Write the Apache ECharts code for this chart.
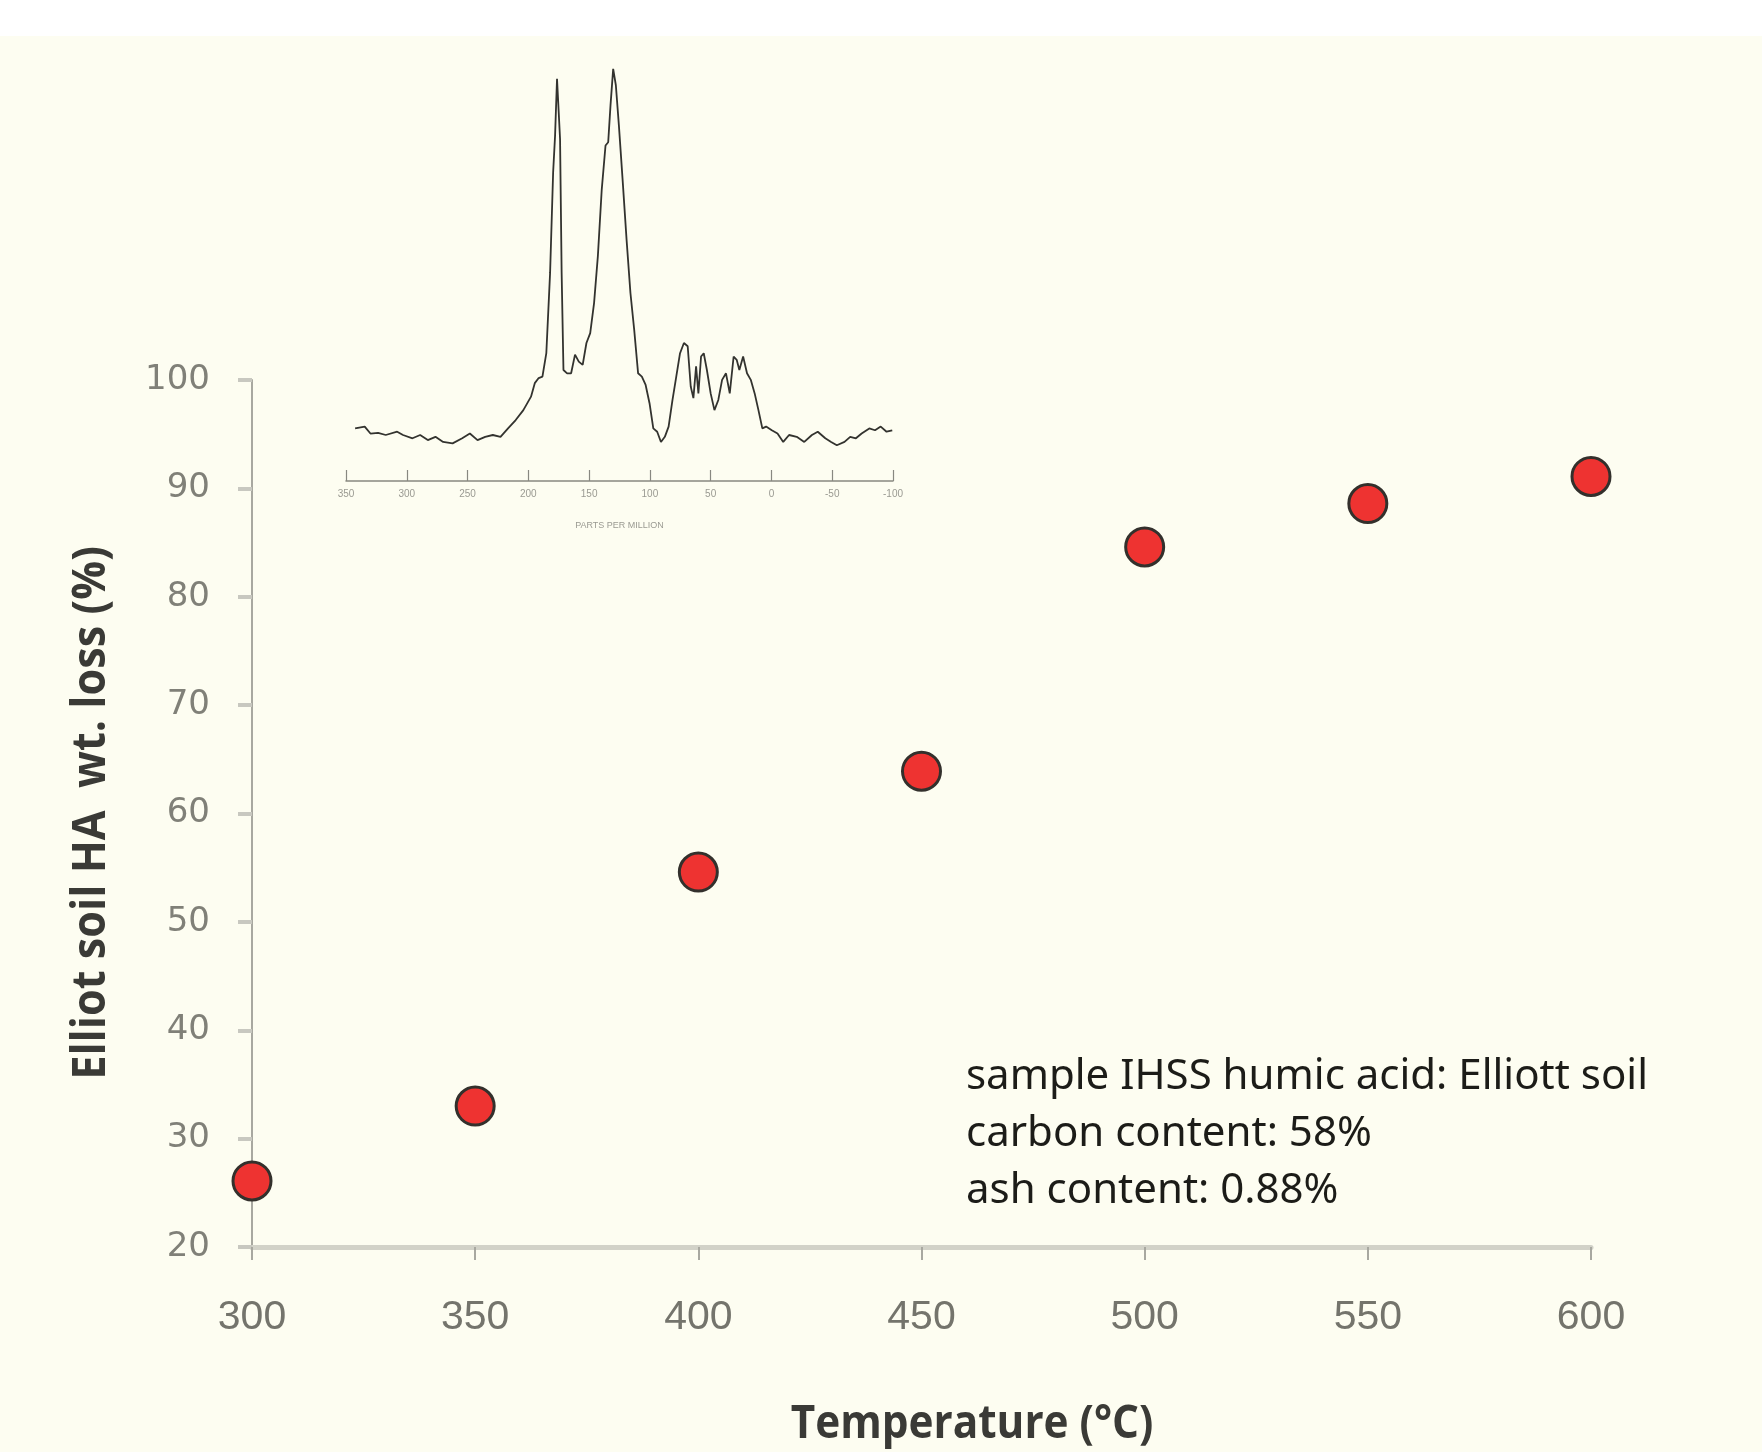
<!DOCTYPE html>
<html>
<head>
<meta charset="utf-8">
<script src="https://cdn.jsdelivr.net/npm/echarts@6/dist/echarts.min.js"></script>
<style>
  html, body { margin: 0; padding: 0; background: #ffffff; }
  #chart { width: 1762px; height: 1452px; }
</style>
</head>
<body>
<div id="chart"></div>
<script>
// main scatter: temperature vs weight loss
var temps = [300, 350, 400, 450, 500, 550, 600];
var wtLoss = [26.1, 33.0, 54.6, 63.9, 84.6, 88.6, 91.1];

// inset 13C NMR spectrum
var ppm = [342.5, 334.6, 329.9, 323.6, 317.3, 307.9, 303.1, 295.3, 289.0, 282.7,
    276.4, 270.1, 262.3, 254.4, 248.1, 241.8, 235.5, 229.2, 222.9, 216.7,
    210.4, 204.1, 197.8, 194.7, 191.5, 188.4, 185.2, 182.1, 179.6, 178.0,
    176.4, 175.2, 173.9, 172.6, 171.1, 168.1, 164.8, 161.6, 158.5, 155.3,
    152.2, 149.1, 145.9, 142.8, 139.6, 136.5, 134.3, 132.4, 130.2, 128.0,
    125.5, 122.3, 119.2, 116.0, 112.9, 109.7, 106.6, 103.5, 100.3, 97.2,
    94.0, 90.9, 87.7, 84.6, 81.4, 78.3, 75.2, 72.0, 68.9, 66.4,
    64.2, 62.0, 60.1, 57.9, 55.7, 53.1, 50.0, 46.9, 43.7, 40.6,
    37.4, 34.3, 31.1, 28.6, 26.4, 23.3, 20.1, 17.0, 13.8, 10.7,
    7.5, 4.4, -0.3, -5.0, -9.7, -14.5, -20.8, -27.0, -33.3, -38.1,
    -44.3, -49.1, -53.8, -60.1, -64.8, -69.5, -74.2, -80.5, -85.2, -89.9,
    -94.7, -99.4];
var intensity = [1.0, 1.5, -0.4, -0.2, -0.8, 0.1, -0.8, -1.7, -0.8, -2.2,
    -1.3, -2.7, -3.1, -1.7, -0.4, -2.2, -1.3, -0.8, -1.3, 1.0,
    3.3, 6.0, 9.7, 13.4, 14.8, 15.2, 21.6, 43.6, 71.1, 81.2,
    96.8, 97.3, 80.3, 43.6, 17.0, 16.1, 16.1, 21.2, 19.3, 18.4,
    24.4, 27.1, 35.4, 48.2, 66.5, 78.5, 79.4, 89.5, 99.5, 95.0,
    84.0, 68.4, 52.8, 38.1, 28.0, 16.1, 15.2, 12.9, 7.9, 1.0,
    0.1, -2.7, -1.3, 1.5, 8.8, 15.2, 21.6, 24.4, 23.5, 12.5,
    9.3, 18.0, 10.6, 20.7, 21.6, 17.0, 10.6, 6.0, 8.8, 14.3,
    16.1, 10.6, 20.7, 19.8, 17.0, 20.7, 16.1, 14.3, 10.6, 6.0,
    1.0, 1.5, 0.5, -0.4, -2.7, -0.8, -1.3, -2.7, -0.8, 0.1,
    -1.7, -2.7, -3.6, -2.7, -1.3, -1.7, -0.4, 1.0, 0.5, 1.5,
    0.1, 0.5];

var notes = ['sample IHSS humic acid: Elliott soil', 'carbon content: 58%', 'ash content: 0.88%'];

var mainPts = temps.map(function (t, i) { return [t, wtLoss[i]]; });
var specPts = ppm.map(function (p, i) { return [p, intensity[i]]; });

var chart = echarts.init(document.getElementById('chart'));

var option = {
    backgroundColor: '#ffffff',
    animation: false,
    grid: [
        { left: 252, right: 171, top: 380, bottom: 205 },
        { left: 346, width: 547, top: 67, height: 414 }
    ],
    xAxis: [{
        gridIndex: 0,
        type: 'value',
        min: 300, max: 600, interval: 50,
        splitLine: { show: false },
        axisLine: { lineStyle: { color: '#d2d2c8', width: 5 } },
        axisTick: { length: 13, lineStyle: { color: '#a8a8a0', width: 2 } },
        axisLabel: { margin: 50, fontSize: 41, color: '#74746c', fontFamily: 'Liberation Sans' }
    }, {
        gridIndex: 1,
        type: 'value',
        inverse: true,
        min: -100, max: 350, interval: 50,
        splitLine: { show: false },
        axisLine: { onZero: false, lineStyle: { color: '#888880', width: 1.5 } },
        axisTick: { inside: true, length: 11, lineStyle: { color: '#888880', width: 1.2 } },
        axisLabel: { margin: 8, fontSize: 10, color: '#9a9a92', fontFamily: 'Liberation Sans' },
        name: 'PARTS PER MILLION',
        nameLocation: 'middle',
        nameGap: 40,
        nameTextStyle: { fontSize: 9, color: '#9a9a92', fontFamily: 'Liberation Sans' }
    }],
    yAxis: [{
        gridIndex: 0,
        type: 'value',
        min: 20, max: 100, interval: 10,
        splitLine: { show: false },
        axisLine: { show: true, lineStyle: { color: '#a8a8a0', width: 2 } },
        axisTick: { length: 14, lineStyle: { color: '#c8c8c0', width: 4 } },
        axisLabel: { margin: 42, fontSize: 34, color: '#808078', fontFamily: 'DejaVu Sans' }
    }, {
        gridIndex: 1,
        type: 'value',
        min: -13.4, max: 100,
        show: false
    }],
    graphic: [{
        type: 'rect',
        z: -10,
        shape: { x: 0, y: 36, width: 1762, height: 1416 },
        style: { fill: '#fdfdf1' }
    }, {
        type: 'text',
        x: 92, y: 813,
        rotation: Math.PI / 2,
        scaleX: 0.92,
        style: {
            text: 'Elliot soil HA  wt. loss (%)',
            fontSize: 47, fontWeight: 'bold', fill: '#3a3a36',
            fontFamily: 'Open Sans',
            align: 'center', verticalAlign: 'middle'
        }
    }, {
        type: 'text',
        x: 972, y: 1425,
        scaleX: 0.9,
        style: {
            text: 'Temperature (\u00b0C)',
            fontSize: 47, fontWeight: 'bold', fill: '#3a3a36',
            fontFamily: 'Open Sans',
            align: 'center', verticalAlign: 'middle'
        }
    }].concat(notes.map(function (s, i) {
        return {
            type: 'text',
            x: 966, y: 1077 + i * 57,
            style: {
                text: s, fontSize: 42, fill: '#1c1c18',
                fontFamily: 'Noto Sans',
                align: 'left', verticalAlign: 'middle'
            }
        };
    })),
    series: [{
        type: 'line',
        xAxisIndex: 1, yAxisIndex: 1,
        data: specPts,
        showSymbol: false,
        lineStyle: { color: '#33332f', width: 1.8 },
        z: 3
    }, {
        type: 'scatter',
        xAxisIndex: 0, yAxisIndex: 0,
        data: mainPts,
        symbolSize: 38,
        itemStyle: { color: '#ee3331', borderColor: '#33302c', borderWidth: 3, opacity: 1 },
        z: 5
    }]
};

chart.setOption(option);
</script>
</body>
</html>
